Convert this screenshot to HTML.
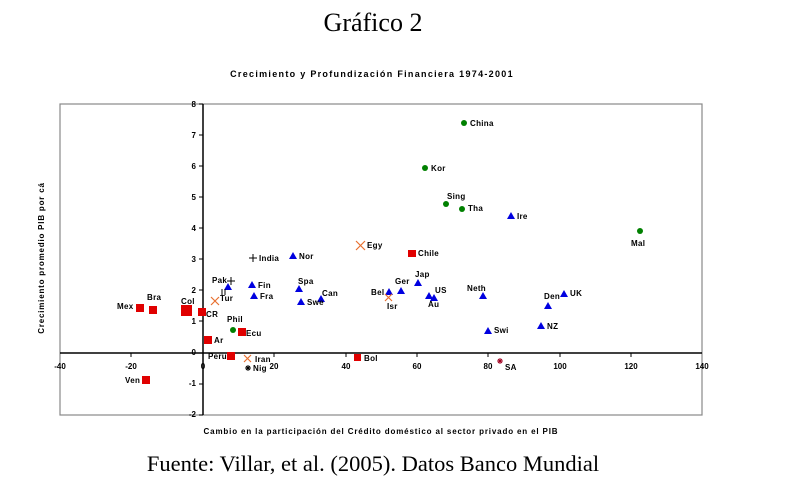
<!DOCTYPE html>
<html><head><meta charset="utf-8"><style>
html,body{margin:0;padding:0;background:#fff;width:793px;height:504px;overflow:hidden}
</style></head><body>
<svg width="793" height="504" xmlns="http://www.w3.org/2000/svg" font-family="Liberation Sans, Arial, sans-serif">
<text x="373" y="31" font-family="Liberation Serif, serif" font-size="26" text-anchor="middle">Gráfico 2</text>
<text x="372" y="77" font-size="9" font-weight="bold" text-anchor="middle" letter-spacing="1.3">Crecimiento y Profundización Financiera 1974-2001</text>
<rect x="60" y="104" width="642" height="311" fill="none" stroke="#888" stroke-width="1.2"/>
<line x1="203" y1="104" x2="203" y2="415" stroke="#000" stroke-width="1.5"/>
<line x1="60" y1="353" x2="702" y2="353" stroke="#000" stroke-width="1.5"/>
<g font-size="8" font-weight="bold" text-anchor="end" fill="#000">
<text x="196" y="107">8</text><text x="196" y="138">7</text><text x="196" y="169">6</text>
<text x="196" y="200">5</text><text x="196" y="231">4</text><text x="196" y="262">3</text>
<text x="196" y="293">2</text><text x="196" y="324">1</text><text x="196" y="355">0</text>
<text x="196" y="386">-1</text><text x="196" y="417">-2</text>
</g>
<g stroke="#000" stroke-width="1">
<line x1="199" y1="104" x2="203" y2="104"/><line x1="199" y1="135" x2="203" y2="135"/><line x1="199" y1="166" x2="203" y2="166"/><line x1="199" y1="197" x2="203" y2="197"/><line x1="199" y1="228" x2="203" y2="228"/><line x1="199" y1="259" x2="203" y2="259"/><line x1="199" y1="290" x2="203" y2="290"/><line x1="199" y1="321" x2="203" y2="321"/><line x1="199" y1="384" x2="203" y2="384"/><line x1="199" y1="415" x2="203" y2="415"/>
<line x1="131" y1="353" x2="131" y2="357"/><line x1="274" y1="353" x2="274" y2="357"/><line x1="346" y1="353" x2="346" y2="357"/><line x1="417" y1="353" x2="417" y2="357"/><line x1="488" y1="353" x2="488" y2="357"/><line x1="560" y1="353" x2="560" y2="357"/><line x1="631" y1="353" x2="631" y2="357"/>
</g>
<g font-size="8" font-weight="bold" text-anchor="middle">
<text x="60" y="369">-40</text><text x="131" y="369">-20</text><text x="203" y="369">0</text><text x="274" y="369">20</text><text x="346" y="369">40</text><text x="417" y="369">60</text><text x="488" y="369">80</text><text x="560" y="369">100</text><text x="631" y="369">120</text><text x="702" y="369">140</text>
</g>
<text transform="translate(44,258) rotate(-90)" font-size="8" font-weight="bold" text-anchor="middle" letter-spacing="0.8">Crecimiento promedio PIB por cá</text>
<text x="381" y="434" font-size="8" font-weight="bold" text-anchor="middle" letter-spacing="0.85">Cambio en la participación del Crédito doméstico al sector privado en el PIB</text>
<text x="373" y="471" font-family="Liberation Serif, serif" font-size="22.5" text-anchor="middle">Fuente: Villar, et al. (2005). Datos Banco Mundial</text>
<g fill="#e00000">
<rect x="136" y="304" width="8" height="8"/><rect x="149" y="306" width="8" height="8"/><rect x="181" y="305" width="11" height="11"/><rect x="198" y="308" width="8" height="8"/>
<rect x="238" y="328" width="8" height="8"/><rect x="204" y="336" width="8" height="8"/><rect x="227" y="352" width="8" height="8"/><rect x="354" y="354" width="7" height="7"/>
<rect x="142" y="376" width="8" height="8"/><rect x="408" y="250" width="8" height="7"/>
</g>
<g fill="#0000e0">
<polygon points="293,252 297,259 289,259"/><polygon points="228,283 232,290 224,290"/><polygon points="252,281 256,288 248,288"/><polygon points="254,292 258,299 250,299"/>
<polygon points="299,285 303,292 295,292"/><polygon points="301,298 305,305 297,305"/><polygon points="321,295 325,302 317,302"/>
<polygon points="389,288 393,295 385,295"/><polygon points="401,287 405,294 397,294"/><polygon points="418,279 422,286 414,286"/><polygon points="429,292 433,299 425,299"/><polygon points="434,294 438,301 430,301"/>
<polygon points="483,292 487,299 479,299"/><polygon points="548,302 552,309 544,309"/><polygon points="564,290 568,297 560,297"/><polygon points="488,327 492,334 484,334"/><polygon points="541,322 545,329 537,329"/><polygon points="511,212 515,219 507,219"/>
</g>
<g fill="#008000">
<circle cx="464" cy="123" r="3"/><circle cx="425" cy="168" r="3"/><circle cx="446" cy="204" r="3"/><circle cx="462" cy="209" r="3"/><circle cx="640" cy="231" r="3"/><circle cx="233" cy="330" r="3"/>
</g>
<g stroke="#e87030" stroke-width="1.2">
<path d="M356,241 l9,9 M365,241 l-9,9"/><path d="M211,297 l8,8 M219,297 l-8,8"/><path d="M385,294 l7,7 M392,294 l-7,7"/><path d="M244,355 l7,7 M251,355 l-7,7"/>
</g>
<g stroke="#000" stroke-width="1">
<path d="M249,258 h8 M253,254 v8"/><path d="M227,281 h8 M231,277 v8"/><path d="M222,289 v6 M225,289 v6"/>
<path d="M245,368 h6 M248,365 v6 M246,366 l4,4 M250,366 l-4,4"/>
</g>
<g stroke="#a00020" stroke-width="1"><path d="M497,361 h6 M500,358 v6 M498,359 l4,4 M502,359 l-4,4"/></g>
<g font-size="8" font-weight="bold" fill="#000" letter-spacing="0.3">
<text x="470" y="126">China</text><text x="431" y="171">Kor</text><text x="447" y="199">Sing</text><text x="468" y="211">Tha</text><text x="517" y="219">Ire</text><text x="631" y="246">Mal</text>
<text x="367" y="248">Egy</text><text x="418" y="256">Chile</text><text x="259" y="261">India</text><text x="299" y="259">Nor</text>
<text x="212" y="283">Pak</text><text x="258" y="288">Fin</text><text x="260" y="299">Fra</text><text x="220" y="301">Tur</text>
<text x="298" y="284">Spa</text><text x="307" y="305">Swe</text><text x="322" y="296">Can</text>
<text x="371" y="295">Bel</text><text x="395" y="284">Ger</text><text x="415" y="277">Jap</text><text x="435" y="293">US</text><text x="428" y="307">Au</text><text x="387" y="309">Isr</text>
<text x="467" y="291">Neth</text><text x="544" y="299">Den</text><text x="570" y="296">UK</text><text x="494" y="333">Swi</text><text x="547" y="329">NZ</text><text x="505" y="370">SA</text>
<text x="117" y="309">Mex</text><text x="147" y="300">Bra</text><text x="181" y="304">Col</text><text x="206" y="317">CR</text>
<text x="227" y="322">Phil</text><text x="246" y="336">Ecu</text><text x="214" y="343">Ar</text><text x="208" y="359">Peru</text>
<text x="255" y="362">Iran</text><text x="253" y="371">Nig</text><text x="364" y="361">Bol</text><text x="125" y="383">Ven</text>
</g>
</svg>
</body></html>
